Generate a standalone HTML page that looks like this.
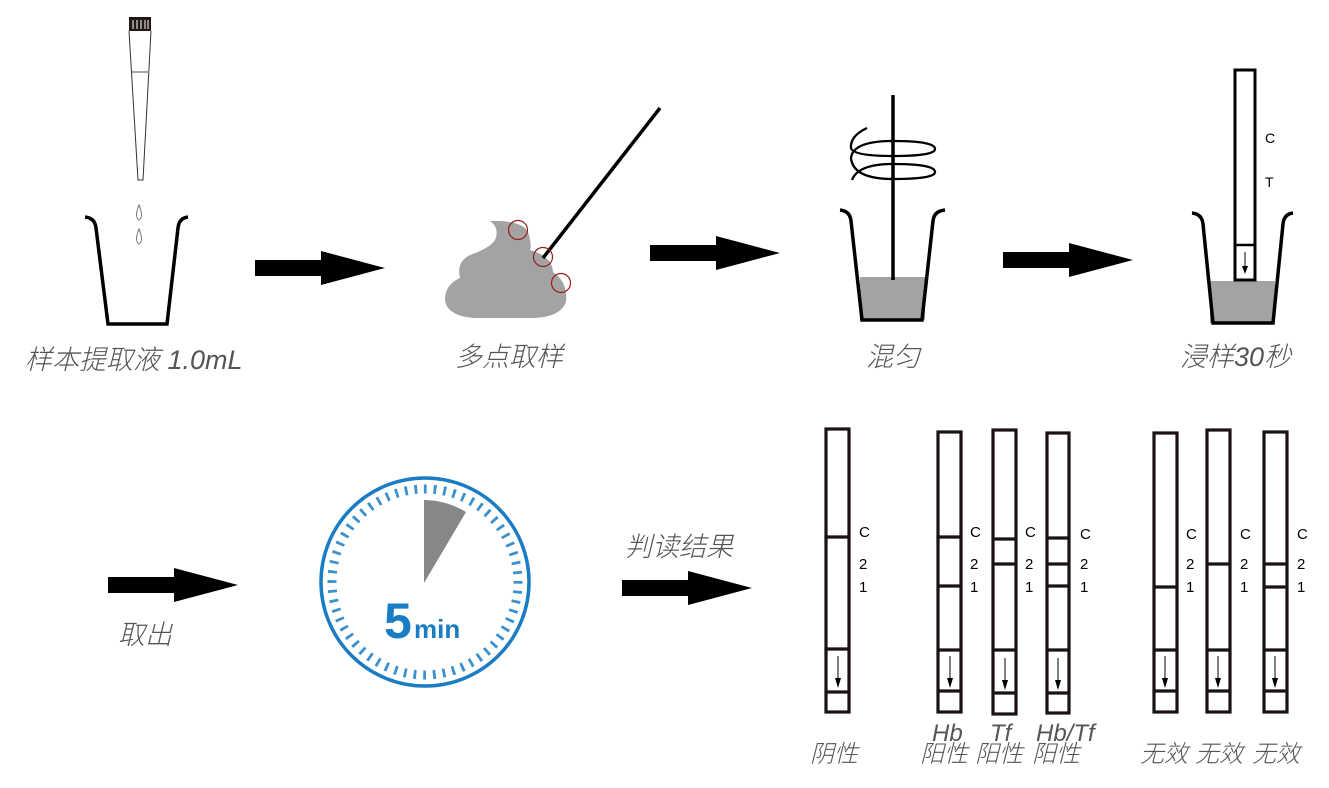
<!DOCTYPE html>
<html><head><meta charset="utf-8"><style>
body{margin:0;background:#fff;width:1329px;height:783px;overflow:hidden}
svg text{font-family:"Liberation Sans","Noto Sans CJK SC",sans-serif}
.lb{font-style:italic;fill:#555;font-size:27px;font-weight:300}
.sm{font-style:italic;fill:#555;font-size:24px;font-weight:300}
</style></head><body>
<svg width="1329" height="783" viewBox="0 0 1329 783" xmlns="http://www.w3.org/2000/svg">
<defs>
<g id="arr"><path d="M0,-8 H66 V-17 L130,0 L66,17 V8 H0 Z" fill="#000"/></g>
</defs>
<!-- pipette -->
<rect x="129" y="17" width="22" height="14" fill="#231815"/>
<g stroke="#fff" stroke-width="1"><line x1="133" y1="20" x2="133" y2="29"/><line x1="137" y1="20" x2="137" y2="29"/><line x1="141" y1="20" x2="141" y2="29"/><line x1="145" y1="20" x2="145" y2="29"/><line x1="148" y1="20" x2="148" y2="29"/></g>
<path d="M129,31 L138,180 H143 L151,31" fill="none" stroke="#333" stroke-width="1"/>
<line x1="132" y1="72" x2="149" y2="72" stroke="#888" stroke-width="1.5"/>
<path d="M139,205 Q134,217 139,220 Q144,217 139,205Z M139,229 Q134,241 139,244 Q144,241 139,229Z" fill="none" stroke="#777" stroke-width="1"/>
<!-- cup1 -->
<path d="M85,217 Q95,218 96,228 L108,324 H167 L178,228 Q179,218 188,217" fill="none" stroke="#000" stroke-width="3.5"/>
<text class="lb" x="25" y="369">样本提取液 1.0mL</text>
<use href="#arr" x="255" y="268"/>
<!-- poop -->
<path d="M490,221 Q522,220 528,232 Q532,245 530,250 Q552,256 553,272 Q568,282 566,302 Q560,318 530,318 H475 Q445,316 445,298 Q446,284 460,278 Q456,262 470,255 Q490,248 495,240 Q500,228 490,221Z" fill="#a3a3a3"/>
<line x1="543" y1="258" x2="660" y2="108" stroke="#000" stroke-width="3.5"/>
<g fill="none" stroke="#9b1c1c" stroke-width="1.2"><circle cx="518" cy="230" r="9.5"/><circle cx="543" cy="257" r="9.5"/><circle cx="561" cy="283" r="9.5"/></g>
<text class="lb" x="455" y="366">多点取样</text>
<use href="#arr" x="650" y="253"/>
<!-- cup3 -->
<rect x="860" y="277" width="65" height="43" fill="#a3a3a3"/>
<path d="M840,210 Q850,211 851,221 L862,320 H922 L933,221 Q934,211 945,210" fill="none" stroke="#000" stroke-width="3.5"/>
<line x1="893" y1="95" x2="893" y2="280" stroke="#000" stroke-width="3.5"/>
<g fill="none" stroke="#000" stroke-width="2.3">
<path d="M867,128 Q850,136 851,148 Q853,156 893,156 Q935,156 935,149 Q935,141 893,141 Q853,141 851,158 Q853,179 893,179 Q935,179 935,172 Q935,164 893,164 Q858,164 852,180"/>
</g>
<text class="lb" x="866" y="366">混匀</text>
<use href="#arr" x="1003" y="260"/>
<!-- cup4 -->
<rect x="1210" y="281" width="65" height="42" fill="#a3a3a3"/>
<path d="M1192,213 Q1202,214 1203,224 L1213,323 H1273 L1283,224 Q1284,214 1293,213" fill="none" stroke="#000" stroke-width="3.5"/>
<rect x="1235" y="70" width="20" height="210" fill="#fff" stroke="#000" stroke-width="3"/>
<line x1="1235" y1="245" x2="1255" y2="245" stroke="#000" stroke-width="2.5"/>
<line x1="1245" y1="252" x2="1245" y2="272" stroke="#000" stroke-width="1"/><path d="M1242,266 L1245,274 L1248,266Z"/>
<text x="1265" y="143" font-size="14">C</text><text x="1265" y="187" font-size="14">T</text>
<text class="lb" x="1180" y="366">浸样30秒</text>
<!-- row 2 -->
<use href="#arr" x="108" y="585"/>
<text class="lb" x="118" y="644">取出</text>
<!-- timer -->
<circle cx="425" cy="582" r="104" fill="none" stroke="#1a7cc4" stroke-width="3.5"/>
<circle cx="425" cy="582" r="93" fill="none" stroke="#1a7cc4" stroke-width="9" stroke-dasharray="2.8 6.94" transform="rotate(-90.7 425 582)" opacity="0.85"/>
<path d="M424,583 L424,500 A83,83 0 0 1 466,512 Z" fill="#878787"/>
<text x="384" y="638" font-size="50" font-weight="bold" fill="#1a7cc4">5</text>
<text x="414" y="638" font-size="26" font-weight="bold" fill="#1a7cc4">min</text>
<use href="#arr" x="622" y="588"/>
<text class="lb" x="625" y="556">判读结果</text>
<!-- strips -->
<g fill="none" stroke="#1a1311" stroke-width="3.2">
<rect x="826" y="429" width="23" height="283"/>
<line x1="826" y1="537" x2="849" y2="537"/><line x1="826" y1="649" x2="849" y2="649"/><line x1="826" y1="692" x2="849" y2="692"/>
<rect x="938" y="432" width="23" height="280"/>
<line x1="938" y1="537" x2="961" y2="537"/><line x1="938" y1="586" x2="961" y2="586"/><line x1="938" y1="650" x2="961" y2="650"/><line x1="938" y1="691" x2="961" y2="691"/>
<rect x="993" y="430" width="23" height="284"/>
<line x1="993" y1="539" x2="1016" y2="539"/><line x1="993" y1="564" x2="1016" y2="564"/><line x1="993" y1="650" x2="1016" y2="650"/><line x1="993" y1="693" x2="1016" y2="693"/>
<rect x="1047" y="433" width="22" height="280"/>
<line x1="1047" y1="538" x2="1069" y2="538"/><line x1="1047" y1="564" x2="1069" y2="564"/><line x1="1047" y1="586" x2="1069" y2="586"/><line x1="1047" y1="650" x2="1069" y2="650"/><line x1="1047" y1="693" x2="1069" y2="693"/>
<rect x="1154" y="433" width="23" height="279"/>
<line x1="1154" y1="587" x2="1177" y2="587"/><line x1="1154" y1="650" x2="1177" y2="650"/><line x1="1154" y1="691" x2="1177" y2="691"/>
<rect x="1207" y="430" width="23" height="282"/>
<line x1="1207" y1="564" x2="1230" y2="564"/><line x1="1207" y1="650" x2="1230" y2="650"/><line x1="1207" y1="691" x2="1230" y2="691"/>
<rect x="1264" y="432" width="23" height="280"/>
<line x1="1264" y1="564" x2="1287" y2="564"/><line x1="1264" y1="587" x2="1287" y2="587"/><line x1="1264" y1="650" x2="1287" y2="650"/><line x1="1264" y1="691" x2="1287" y2="691"/>
</g>
<g stroke="#000" stroke-width="1">
<line x1="838" y1="656" x2="838" y2="684"/><line x1="950" y1="656" x2="950" y2="684"/><line x1="1005" y1="658" x2="1005" y2="686"/><line x1="1058" y1="658" x2="1058" y2="686"/><line x1="1165" y1="656" x2="1165" y2="684"/><line x1="1218" y1="656" x2="1218" y2="684"/><line x1="1275" y1="656" x2="1275" y2="684"/>
</g>
<g>
<path d="M835,678 L838,688 L841,678Z"/><path d="M947,678 L950,688 L953,678Z"/><path d="M1002,680 L1005,690 L1008,680Z"/><path d="M1055,680 L1058,690 L1061,680Z"/><path d="M1162,678 L1165,688 L1168,678Z"/><path d="M1215,678 L1218,688 L1221,678Z"/><path d="M1272,678 L1275,688 L1278,678Z"/>
</g>
<g font-size="15" fill="#000">
<text x="859" y="537">C</text><text x="859" y="569">2</text><text x="859" y="592">1</text>
<text x="970" y="537">C</text><text x="970" y="569">2</text><text x="970" y="592">1</text>
<text x="1025" y="537">C</text><text x="1025" y="569">2</text><text x="1025" y="592">1</text>
<text x="1080" y="539">C</text><text x="1080" y="569">2</text><text x="1080" y="592">1</text>
<text x="1186" y="539">C</text><text x="1186" y="569">2</text><text x="1186" y="592">1</text>
<text x="1240" y="539">C</text><text x="1240" y="569">2</text><text x="1240" y="592">1</text>
<text x="1297" y="539">C</text><text x="1297" y="569">2</text><text x="1297" y="592">1</text>
</g>
<text class="sm" x="810" y="762">阴性</text>
<text class="sm" x="932" y="741">Hb</text><text class="sm" x="920" y="762">阳性</text>
<text class="sm" x="990" y="741">Tf</text><text class="sm" x="975" y="762">阳性</text>
<text class="sm" x="1036" y="741">Hb/Tf</text><text class="sm" x="1032" y="762">阳性</text>
<text class="sm" x="1140" y="762">无效</text><text class="sm" x="1195" y="762">无效</text><text class="sm" x="1252" y="762">无效</text>
</svg>
</body></html>
